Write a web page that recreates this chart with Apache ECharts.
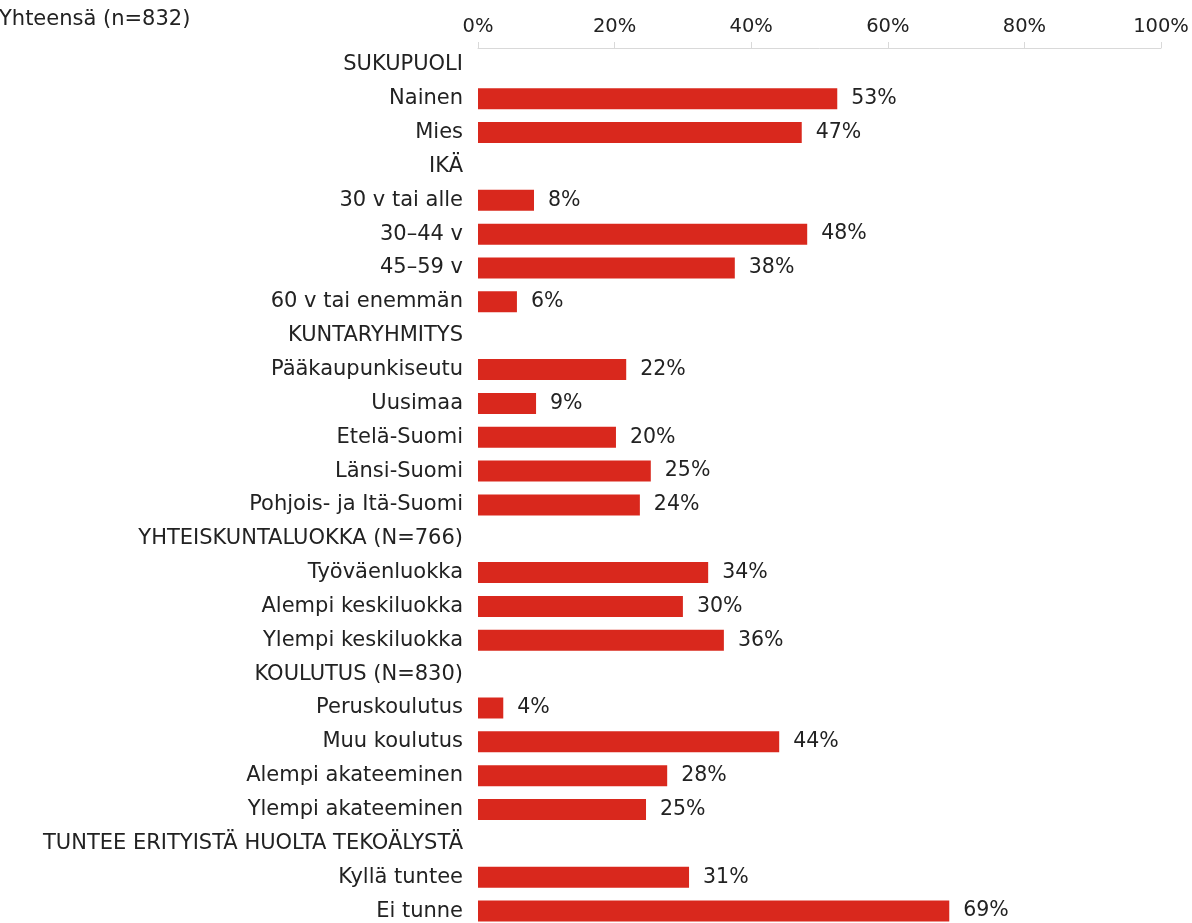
<!DOCTYPE html>
<html>
<head>
<meta charset="utf-8">
<script src="https://cdn.jsdelivr.net/npm/echarts@6/dist/echarts.min.js"></script>
<style>
  html, body { margin: 0; padding: 0; background: #fff; }
  .EC { width: 1192px; height: 923px; }
</style>
</head>
<body>
<div class="EC"></div>
<script>
// Rows top to bottom, group headers have no value
const categories = [
    'SUKUPUOLI', 'Nainen', 'Mies',
    'IKÄ', '30 v tai alle', '30\u201344 v', '45\u201359 v', '60 v tai enemmän',
    'KUNTARYHMITYS', 'Pääkaupunkiseutu', 'Uusimaa', 'Etelä-Suomi', 'Länsi-Suomi', 'Pohjois- ja Itä-Suomi',
    'YHTEISKUNTALUOKKA (N=766)', 'Työväenluokka', 'Alempi keskiluokka', 'Ylempi keskiluokka',
    'KOULUTUS (N=830)', 'Peruskoulutus', 'Muu koulutus', 'Alempi akateeminen', 'Ylempi akateeminen',
    'TUNTEE ERITYISTÄ HUOLTA TEKOÄLYSTÄ', 'Kyllä tuntee', 'Ei tunne'
]
const values = [
    '-', 52.6, 47.4,
    '-', 8.2, 48.2, 37.6, 5.7,
    '-', 21.7, 8.5, 20.2, 25.3, 23.7,
    '-', 33.7, 30.0, 36.0,
    '-', 3.7, 44.1, 27.7, 24.6,
    '-', 30.9, 69.0
]
const xTicks = [0, 20, 40, 60, 80, 100]

window.onload = () => {
    let EC = echarts.init(document.querySelector('.EC'))
    const font = 'DejaVu Sans'
    let option = {
        backgroundColor: '#fff',
        animation: false,
        title: {
            text: 'Yhteensä (n=832)',
            left: -6,
            top: 4,
            textStyle: { color: '#222', fontFamily: font, fontSize: 21, fontWeight: 'normal' }
        },
        // the reference is cropped at the bottom, so the grid runs past the canvas
        grid: { left: 478, right: 31, top: 48, height: 880, outerBoundsMode: 'none' },
        xAxis: {
            type: 'value',
            position: 'top',
            min: xTicks[0],
            max: xTicks[xTicks.length - 1],
            interval: 20,
            axisLine: { show: true, lineStyle: { color: '#d9d9d9', width: 1 } },
            axisTick: { show: true, length: 6, lineStyle: { color: '#d9d9d9' } },
            splitLine: { show: false },
            axisLabel: {
                formatter: '{value}%',
                color: '#222',
                fontFamily: font,
                fontSize: 19.5,
                margin: 11
            }
        },
        yAxis: {
            type: 'category',
            data: categories,
            inverse: true,
            axisLine: { show: false },
            axisTick: { show: false },
            axisLabel: {
                color: '#222',
                fontFamily: font,
                fontSize: 21,
                margin: 15,
                interval: 0
            }
        },
        series: [{
            type: 'bar',
            data: values,
            barWidth: 21,
            itemStyle: { color: '#d9281d' },
            label: {
                show: true,
                position: 'right',
                distance: 14,
                color: '#222',
                fontFamily: font,
                fontSize: 20.5,
                formatter: p => Math.round(p.value) + '%'
            }
        }]
    }
    EC.setOption(option)
}
</script>
</body>
</html>
